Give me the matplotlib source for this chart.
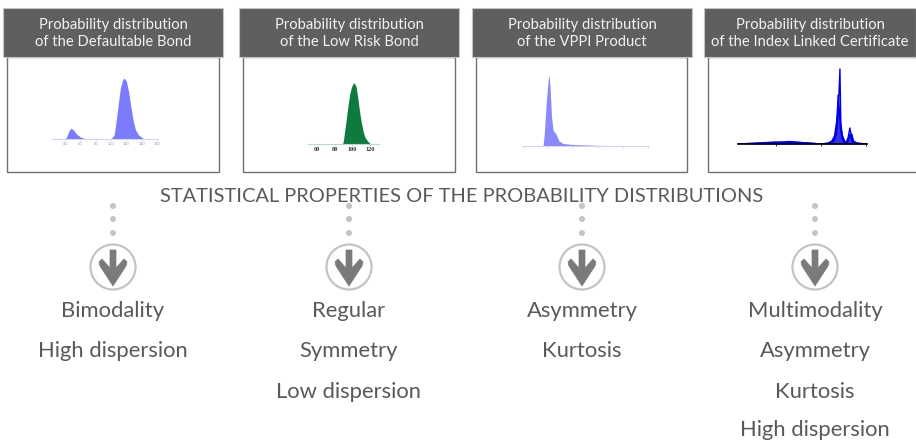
import matplotlib
matplotlib.use('Agg')
import matplotlib.pyplot as plt
from matplotlib.patches import Rectangle, Circle, Polygon

plt.rcParams['font.family'] = ['Lato', 'DejaVu Sans']

W, H = 916, 441

headers = [
    'Probability distribution\nof the Defaultable Bond',
    'Probability distribution\nof the Low Risk Bond',
    'Probability distribution\nof the VPPI Product',
    'Probability distribution\nof the Index Linked Certificate',
]
main_title = 'STATISTICAL PROPERTIES OF THE PROBABILITY DISTRIBUTIONS'
properties = [
    ['Bimodality', 'High dispersion'],
    ['Regular', 'Symmetry', 'Low dispersion'],
    ['Asymmetry', 'Kurtosis'],
    ['Multimodality', 'Asymmetry', 'Kurtosis', 'High dispersion'],
]

# defaultable bond
bond_x = [23, 40, 42, 45, 48, 51, 55, 60, 66, 75, 100, 104, 106, 109, 112, 115, 117, 120, 123, 126, 129, 132, 136, 142, 160]
bond_y = [0, 0, 2, 8, 11, 9, 5, 2, 0.5, 0, 0, 4, 14, 32, 50, 59, 61, 58, 47, 32, 18, 9, 4, 0.5, 0]
bond_ticks = [40, 60, 80, 100, 120, 140, 160]

# low risk bond
low_x = [50, 89, 90, 91, 93, 95, 97, 99, 101, 102, 104, 106, 108, 110, 112, 114, 117, 120, 130]
low_y = [0, 0, 4, 11, 24, 38, 50, 57, 61, 61, 58, 47, 33, 22, 13, 7, 3, 0.5, 0]
low_ticks = [60, 80, 100, 120]

# vppi product
vppi_x = [0, 0.8, 0.85, 0.92, 1.0, 1.04, 1.08, 1.14, 1.2, 1.32, 1.44, 1.6, 2.0, 3.0, 5.0]
vppi_y = [0, 0, 12, 40, 65, 71, 60, 30, 16, 12, 5, 2.5, 1.5, 0.7, 0]
vppi_ticks = [0, 1, 2, 3, 4, 5]

# index linked certificate, three overlaid curves
cert_x = [8, 30, 50, 65, 85, 100, 108, 112, 115, 117, 119, 121, 122, 124, 126, 128, 130, 132, 134, 136, 140, 150]
cert_a = [0, 0.5, 1.5, 2, 1, 0, 0.5, 2, 6, 12, 49, 28, 12, 4, 1, 0, 3, 10, 4, 1, 0, 0]
cert_b = [0, 1, 2, 1.5, 0.5, 0, 0, 1, 4, 10, 30, 75, 20, 6, 1, 2, 6, 16, 7, 2, 0.5, 0]
cert_c = [0, 0.5, 1, 2.5, 1, 0, 1, 3, 8, 20, 35, 31, 16, 8, 3, 1, 4, 8, 10, 3, 1, 0]
cert_ticks = [50, 100, 150]

fig = plt.figure(figsize=(W / 100, H / 100), dpi=100)
bg = fig.add_axes([0, 0, 1, 1])
bg.set_xlim(0, W)
bg.set_ylim(H, 0)
bg.axis('off')

grey = '#595959'
head_left = [3, 239, 472, 704]
head_w = [220, 220, 220, 212]
box_left = [7, 243, 476, 708]
box_right = [219, 455, 687, 930]

for i in range(4):
    bg.add_patch(Rectangle((box_left[i], 57), box_right[i] - box_left[i], 115, fc='white', ec='#707070', lw=1))
    bg.add_patch(Rectangle((head_left[i], 8), head_w[i], 49, fc='#5f5f5f', ec='#c4c4c4', lw=0.8, zorder=3))
    bg.text(head_left[i] + head_w[i] / 2, 33.5, headers[i], color='#f2f2f2', fontsize=10.6, ha='center', va='center',
            linespacing=1.2, zorder=4)

bg.text(462, 196, main_title, color=grey, fontsize=14.4, ha='center', va='center')

centers = [113, 349, 582, 815]
line_y = [311, 351, 392, 430]
for cx, props in zip(centers, properties):
    for dy in [206, 219, 233]:
        bg.add_patch(Circle((cx, dy), 3, fc='#c4c4c4', ec='none'))
    bg.add_patch(Circle((cx, 267), 22.5, fc='white', ec='#c4c4c4', lw=1.6))
    arrow = [(cx - 3, 250), (cx + 3, 250), (cx + 3, 268), (cx + 11, 259), (cx + 14, 262), (cx + 13, 266),
             (cx, 286), (cx - 13, 266), (cx - 14, 262), (cx - 11, 259), (cx - 3, 268)]
    bg.add_patch(Polygon(arrow, closed=True, fc='#7a7a7a', ec='#7a7a7a', lw=0.5, joinstyle='round'))
    for txt, y in zip(props, line_y):
        bg.text(cx, y, txt, color=grey, fontsize=15.8, ha='center', va='center')


def panel(px0, px1, base, xlim, ticks, spine, size=0, labelcolor='#999999', bold=False):
    # axes placed in pixels, y axis is the curve height in px above the baseline
    ax = fig.add_axes([px0 / W, 1 - base / H, (px1 - px0) / W, 80 / H])
    ax.set_xlim(*xlim)
    ax.set_ylim(0, 80)
    ax.patch.set_alpha(0)
    for s in ['top', 'left', 'right']:
        ax.spines[s].set_visible(False)
    ax.spines['bottom'].set_color(spine)
    ax.spines['bottom'].set_linewidth(0.8)
    ax.set_yticks([])
    ax.set_xticks(ticks)
    ax.tick_params(axis='x', length=1.5, width=0.6, color=spine, pad=1, labelsize=max(size, 1), labelcolor=labelcolor)
    if size == 0:
        ax.set_xticklabels([])
    elif bold:
        ax.set_xticklabels(ticks, fontweight='bold', family='Liberation Serif')
    return ax


ax1 = panel(52, 157, 139, (23, 160), bond_ticks, '#d5d5ee', size=2.8)
ax1.fill_between(bond_x, bond_y, color='#7b7bfb', lw=0)

ax2 = panel(308, 379, 144, (50, 130), low_ticks, '#bcd8c4', size=4.5, labelcolor='#333333', bold=True)
ax2.fill_between(low_x, low_y, color='#0f7a3e', lw=0)

ax3 = panel(523, 648, 146, (0, 5), vppi_ticks, '#d5d5ee')
ax3.fill_between(vppi_x, vppi_y, color='#8a8afb', lw=0)

ax4 = panel(738, 867, 144, (8, 151), cert_ticks, 'black')
ax4.spines['bottom'].set_linewidth(1.2)
for vals in [cert_a, cert_b, cert_c]:
    ax4.plot(cert_x, vals, color='#0000e6', lw=1)
ax4.fill_between(cert_x, cert_c, color='#0000e6', lw=0, alpha=0.8)

fig.savefig('out.png', dpi=100)
